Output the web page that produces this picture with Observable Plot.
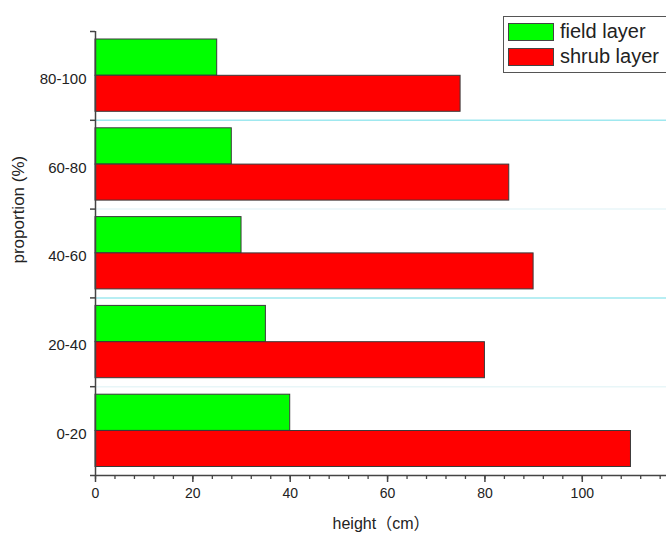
<!DOCTYPE html>
<html><head><meta charset="utf-8">
<script src="https://cdn.jsdelivr.net/npm/d3@7"></script>
<script src="https://cdn.jsdelivr.net/npm/@observablehq/plot@0.6"></script>
<style>
body{margin:0;background:#fff;font-family:"Liberation Sans",Arial,"Noto Sans CJK SC",sans-serif;}
#wrap{position:relative;width:666px;height:535px;overflow:hidden;background:#fff;}
.legend{position:absolute;left:503px;top:16px;width:180px;height:57px;border:1.5px solid #555;background:#fff;box-sizing:border-box;}
.legend .item{position:absolute;left:4px;height:19px;display:flex;align-items:center;}
.legend .sw{width:46px;height:18px;border:1px solid #444;box-sizing:border-box;margin-right:6px;}
.legend .lab{font-size:20px;color:#222;line-height:19px;white-space:nowrap;}
</style></head>
<body><div id="wrap"></div>
<script>
const categories = ["0-20", "20-40", "40-60", "60-80", "80-100"];
const fieldLayer = [40, 35, 30, 28, 25];
const shrubLayer = [110, 80, 90, 85, 75];
const seriesNames = ["field layer", "shrub layer"];
const seriesColors = ["#00ff00", "#ff0000"];
const xTicks = [0, 20, 40, 60, 80, 100];
const xMinorStep = 4;
const xLabel = "height（cm）";
const yLabel = "proportion (%)";

const rows = categories.map((c, i) => ({category: c, idx: i, field: fieldLayer[i], shrub: shrubLayer[i]}));
const n = categories.length;
const axisColor = "#444";

const chart = Plot.plot({
  width: 666,
  height: 535,
  marginLeft: 95,
  marginRight: 0,
  marginTop: 31,
  marginBottom: 60,
  style: {fontFamily: '"Liberation Sans", Arial, "Noto Sans CJK SC", sans-serif', background: "#fff", color: "#222"},
  x: {domain: [0, 117.3], axis: null},
  y: {domain: [0, n], axis: null},
  marks: [
    Plot.ruleY(d3.range(1, n), {stroke: d => d % 2 === 0 ? "#9fe8ef" : "#e8f6f8", strokeWidth: 1.5}),
    Plot.rectX(rows, {x1: 0, x2: "field", y1: "idx", y2: d => d.idx + 1, fill: seriesColors[0], stroke: "#3a3a3a", strokeWidth: 1, insetTop: 8, insetBottom: 44.6}),
    Plot.rectX(rows, {x1: 0, x2: "shrub", y1: "idx", y2: d => d.idx + 1, fill: seriesColors[1], stroke: "#3a3a3a", strokeWidth: 1, insetTop: 44.3, insetBottom: 8.5}),
    Plot.ruleY([0], {stroke: axisColor, strokeWidth: 1.5}),
    Plot.ruleX([0], {stroke: axisColor, strokeWidth: 1.5}),
    Plot.axisX({ticks: d3.range(0, 120, xMinorStep), tickSize: 4, tickFormat: () => "", stroke: axisColor, strokeWidth: 1.3, label: null}),
    Plot.axisX({ticks: xTicks, tickSize: 7, tickPadding: 6, fontSize: 14, stroke: axisColor, strokeWidth: 1.5, fill: "#222", label: null}),
    Plot.axisY({ticks: d3.range(0, n + 1), tickSize: 5, tickFormat: () => "", stroke: axisColor, strokeWidth: 1.5, label: null}),
    Plot.axisY({ticks: categories.map((c, i) => i + 0.5), tickSize: 0, tickPadding: 9, dy: 3, fontSize: 15, fill: "#222", tickFormat: v => categories[Math.floor(v)], label: null}),
    Plot.text([xLabel], {frameAnchor: "bottom", dy: 53, fontSize: 16, fill: "#222"}),
    Plot.text([yLabel], {frameAnchor: "left", rotate: -90, dx: -77, dy: 10, fontSize: 17, fill: "#222"})
  ]
});

const wrap = document.getElementById("wrap");
wrap.appendChild(chart);

const legend = document.createElement("div");
legend.className = "legend";
seriesNames.forEach((name, i) => {
  const item = document.createElement("div");
  item.className = "item";
  item.style.top = (5 + i * 25) + "px";
  const sw = document.createElement("div");
  sw.className = "sw";
  sw.style.background = seriesColors[i];
  const lab = document.createElement("span");
  lab.className = "lab";
  lab.textContent = name;
  item.appendChild(sw);
  item.appendChild(lab);
  legend.appendChild(item);
});
wrap.appendChild(legend);
</script>
</body></html>
